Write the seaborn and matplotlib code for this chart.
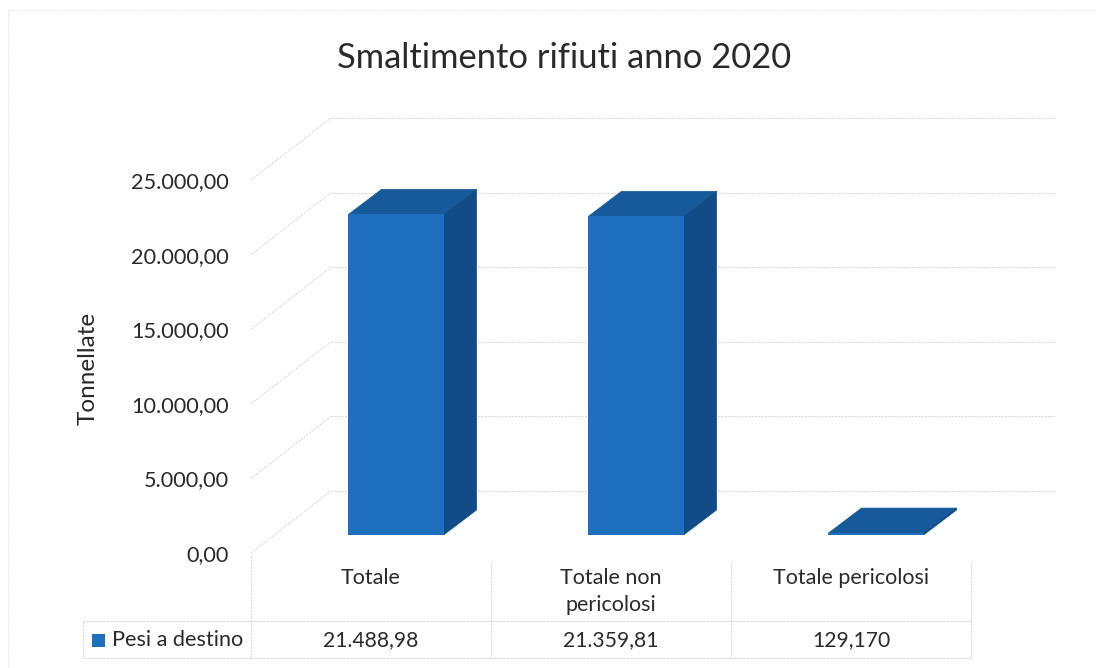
import matplotlib
matplotlib.use("Agg")
import matplotlib.pyplot as plt
from matplotlib.lines import Line2D
from matplotlib.patches import Polygon, Rectangle
import pandas as pd
import seaborn as sns

categories = ["Totale", "Totale non\npericolosi", "Totale pericolosi"]
values = [21488.98, 21359.81, 129.17]
value_labels = ["21.488,98", "21.359,81", "129,170"]
y_ticks = [0, 5000, 10000, 15000, 20000, 25000]
y_tick_labels = ["0,00", "5.000,00", "10.000,00", "15.000,00", "20.000,00", "25.000,00"]
series_name = "Pesi a destino"
title = "Smaltimento rifiuti anno 2020"
y_label = "Tonnellate"

W, H = 1102, 668
FRONT, TOP, SIDE = "#1E70BE", "#175A9C", "#124C86"
GRID = "#DADAE2"
FONT = "Lato"
TXT = "#2A2A2A"

sns.set_theme(style="white")
plt.rcParams["font.family"] = [FONT, "DejaVu Sans"]


def fx(p):
    return p / W


def fy(p):
    return 1 - p / H


def rect(l, t, r, b):
    return [fx(l), fy(b), fx(r) - fx(l), fy(t) - fy(b)]


fig = plt.figure(figsize=(W / 100, H / 100), dpi=100, facecolor="white")

# front plane of the 3D frame: holds the scale and its labels
ax = fig.add_axes(rect(251, 180, 971, 553))
ax.set_xlim(-0.5, 2.5)
ax.set_ylim(0, 25000)
ax.set_facecolor("none")
for s in ax.spines.values():
    s.set_visible(False)
ax.set_yticks(y_ticks, y_tick_labels, fontsize=15.6, color=TXT)
ax.set_xticks(range(len(categories)), categories, fontsize=15.5, color=TXT, linespacing=1.4)
ax.tick_params(axis="y", length=0, pad=16)
ax.tick_params(axis="x", length=0, pad=11)
ax.set_ylabel(y_label, fontsize=17.5, color=TXT, labelpad=0)
ax.yaxis.set_label_coords((99 - 251) / 720, 0.495)

# back wall: shifted by the depth of the box
wall_dx, wall_dy = 80 / 240, 62 / 373 * 25000
wall_right = 2.5 + 84 / 240
grid_style = dict(color=GRID, lw=0.8, ls=(0, (2, 1)), clip_on=False, zorder=1)
for v in y_ticks:
    ax.plot([-0.5 + wall_dx, wall_right], [v + wall_dy, v + wall_dy], **grid_style)
    ax.plot([-0.5, -0.5 + wall_dx], [v, v + wall_dy], **grid_style)

# bars: a second axes offset into the depth of the box
df = pd.DataFrame({"categoria": categories, "valore": values})
bx = fig.add_axes(rect(251 + 25, 180 - 18, 971 + 25, 553 - 18))
sns.barplot(data=df, x="categoria", y="valore", ax=bx, color=FRONT, saturation=1,
            width=0.396, legend=False, zorder=3, linewidth=0, edgecolor=FRONT)
bx.set_xlim(-0.5, 2.5)
bx.set_ylim(0, 25000)
bx.axis("off")
depth_x, depth_y = 33 / 240, 25 / 373 * 25000
for bar in list(bx.patches):
    bar.set_clip_on(False)
    x0, x1 = bar.get_x(), bar.get_x() + bar.get_width()
    h = bar.get_height()
    bx.add_patch(Polygon([(x0, h), (x1, h), (x1 + depth_x, h + depth_y), (x0 + depth_x, h + depth_y)],
                         fc=TOP, ec=TOP, lw=0.5, clip_on=False, zorder=2.9))
    bx.add_patch(Polygon([(x1, 0), (x1 + depth_x, depth_y), (x1 + depth_x, h + depth_y), (x1, h)],
                         fc=SIDE, ec=SIDE, lw=0.5, clip_on=False, zorder=2.9))

# data table below the chart
tstyle = dict(color="#D8D8D8", lw=0.8, ls=(0, (2, 1)))
for x, top in [(251, 556), (491, 563), (731, 563), (971, 563)]:
    fig.add_artist(Line2D([fx(x), fx(x)], [fy(top), fy(658)], **tstyle))
fig.add_artist(Line2D([fx(83), fx(83)], [fy(621), fy(658)], **tstyle))
fig.add_artist(Line2D([fx(83), fx(971)], [fy(621), fy(621)], **tstyle))
fig.add_artist(Line2D([fx(83), fx(971)], [fy(658), fy(658)], **tstyle))
for i, lab in enumerate(value_labels):
    ax.text(i, (553 - 640) / 373, lab, transform=ax.get_xaxis_transform(),
            ha="center", va="center", fontsize=15.2, color=TXT)
fig.add_artist(Rectangle((fx(92), fy(647)), 13 / W, 13 / H, transform=fig.transFigure, fc=FRONT, ec="none"))
fig.text(fx(112), fy(640), series_name, ha="left", va="center", fontsize=15.6, color=TXT)

# scanned page frame
pstyle = dict(color="#E2E2E2", lw=0.8, ls=(0, (1, 1)))
fig.add_artist(Line2D([fx(8), fx(8)], [fy(10), fy(668)], **pstyle))
fig.add_artist(Line2D([fx(8), fx(1095)], [fy(10), fy(10)], **pstyle))

fig.text(fx(564), fy(58), title, ha="center", va="center", fontsize=24.8, color=TXT)

fig.savefig("out.png", dpi=100)
